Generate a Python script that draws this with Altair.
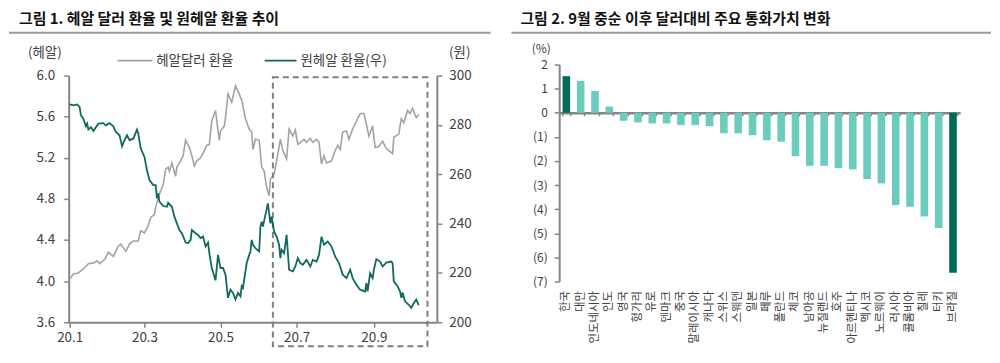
import altair as alt
import pandas as pd

FONT = "Noto Sans CJK KR"
AX = "#858585"
LBL = "#404040"
GRAY_LINE = "#A3A3A3"
TEAL_LINE = "#10695F"
DARK = "#006B5D"
LIGHT = "#6BCBBE"

# ---------------- Figure 1 data (days since 2020-01-01) ----------------
brl_days = [0, 3, 7, 12, 15, 20, 22, 24, 28, 31, 35, 39, 41, 45, 48, 51, 55, 57, 60, 63,
            65, 68, 69, 71, 73, 75, 77, 79, 80, 82, 85, 86, 89, 91, 93, 96, 98, 100, 102, 105,
            108, 110, 112, 114, 117, 120, 121, 124, 125, 127, 130, 133, 135, 138, 141, 144, 146, 147, 149, 152,
            154, 156, 158, 160, 161, 164, 166, 169, 171, 174, 176, 179, 181, 183, 185, 188, 190, 193, 195, 198,
            200, 202, 204, 206, 210, 213, 215, 217, 219, 222, 224, 227, 229, 233, 236, 238, 240, 243, 245, 248,
            251, 254, 256, 259, 260, 264, 266, 268, 271, 273, 275, 278, 280]
brl_vals = [4.02, 4.07, 4.08, 4.13, 4.17, 4.18, 4.20, 4.17, 4.21, 4.28, 4.24, 4.34, 4.36, 4.29, 4.36, 4.39, 4.39, 4.49, 4.47, 4.54,
            4.62, 4.65, 4.72, 4.81, 4.88, 4.94, 5.09, 5.11, 5.07, 5.15, 5.02, 5.11, 5.17, 5.22, 5.37, 5.30, 5.22, 5.12, 5.17, 5.20,
            5.27, 5.32, 5.33, 5.56, 5.66, 5.37, 5.46, 5.51, 5.59, 5.82, 5.74, 5.90, 5.85, 5.76, 5.58, 5.48, 5.45, 5.28, 5.38, 5.37,
            5.11, 5.07, 4.91, 4.83, 4.99, 5.04, 5.17, 5.38, 5.27, 5.19, 5.48, 5.41, 5.47, 5.33, 5.35, 5.38, 5.35, 5.39, 5.35, 5.38,
            5.35, 5.14, 5.22, 5.15, 5.17, 5.27, 5.32, 5.28, 5.45, 5.46, 5.38, 5.48, 5.53, 5.63, 5.63, 5.53, 5.41, 5.51, 5.30, 5.31,
            5.36, 5.29, 5.27, 5.24, 5.40, 5.43, 5.58, 5.54, 5.66, 5.63, 5.68, 5.59, 5.62]

krw_days = [0, 3, 6, 8, 9, 11, 13, 14, 15, 17, 19, 23, 27, 29, 32, 35, 37, 40, 42, 44,
            46, 48, 51, 54, 55, 57, 60, 62, 64, 67, 69, 70, 71, 72, 75, 78, 79, 82, 84, 86,
            88, 90, 93, 95, 97, 98, 101, 103, 105, 107, 109, 111, 112, 114, 117, 119, 121, 123, 125, 127,
            129, 131, 133, 135, 137, 138, 139, 142, 144, 145, 146, 147, 149, 152, 153, 154, 155, 157, 159, 161,
            162, 164, 166, 168, 169, 170, 172, 174, 176, 179, 181, 183, 185, 187, 190, 193, 195, 198, 200, 202,
            204, 207, 210, 213, 216, 219, 222, 225, 227, 230, 233, 237, 238, 239, 241, 243, 244, 246, 249, 251,
            254, 258, 259, 260, 263, 265, 266, 267, 269, 272, 274, 276, 278, 280]
krw_vals = [288.3, 287.9, 288.3, 287.2, 283.9, 282.5, 279.4, 280.5, 278.1, 279.1, 277.5, 280.5, 280.7, 279.8, 280.7, 279.4, 277.1, 275.8, 271.3, 273.8,
            275.8, 273.8, 274.4, 278.1, 276.5, 270.4, 267.0, 261.6, 257.6, 255.6, 255.6, 250.2, 252.2, 248.9, 247.1, 246.8, 248.4, 246.8, 242.8, 240.1,
            237.4, 236.1, 232.3, 232.1, 233.4, 237.4, 236.1, 235.4, 234.1, 234.7, 230.7, 232.3, 228.0, 222.0, 217.0, 227.3, 222.0, 222.0, 219.3, 209.9,
            213.2, 211.9, 209.2, 211.9, 210.5, 214.6, 213.9, 224.0, 227.3, 228.7, 233.4, 231.4, 230.0, 228.7, 238.8, 240.8, 238.8, 243.5, 248.2, 240.1,
            242.8, 236.7, 234.7, 231.4, 226.0, 229.4, 228.0, 235.4, 221.3, 220.6, 222.6, 226.0, 224.0, 223.3, 225.3, 222.6, 225.3, 224.6, 227.3, 234.7,
            231.4, 232.7, 230.7, 226.6, 224.0, 219.3, 217.9, 221.3, 217.9, 215.2, 213.2, 212.5, 215.9, 212.5, 219.9, 217.9, 221.3, 225.6, 224.6, 222.6,
            224.2, 224.6, 224.0, 216.6, 214.6, 212.5, 209.9, 212.1, 208.5, 207.1, 205.8, 207.8, 209.2, 206.9]

box_dates = ["2020-06-12", "2020-10-14"]
box_vals = [5.983, 3.366]

left_ticks = [3.6, 4.0, 4.4, 4.8, 5.2, 5.6, 6.0]
right_ticks = [200, 220, 240, 260, 280, 300]
month_ticks = [1, 3, 5, 7, 9]

# ---------------- Figure 2 data ----------------
countries = ["한국", "대만", "인도네시아", "인도", "영국", "헝가리", "유로", "덴마크", "중국", "말레이시아",
             "캐나다", "스위스", "스웨덴", "일본", "페루", "폴란드", "체코", "남아공", "뉴질랜드", "호주",
             "아르헨티나", "멕시코", "노르웨이", "러시아", "콜롬비아", "칠레", "터키", "브라질"]
changes = [1.52, 1.32, 0.90, 0.26, -0.33, -0.40, -0.44, -0.44, -0.51, -0.51,
           -0.56, -0.85, -0.85, -0.93, -1.14, -1.20, -1.80, -2.20, -2.20, -2.30,
           -2.35, -2.75, -2.93, -3.83, -3.90, -4.30, -4.78, -6.64]
highlight = ["한국", "브라질"]

title1 = "그림 1. 헤알 달러 환율 및 원헤알 환율 추이"
title2 = "그림 2. 9월 중순 이후 달러대비 주요 통화가치 변화"
legend1 = "헤알달러 환율"
legend2 = "원헤알 환율(우)"


def to_dates(days):
    return (pd.Timestamp("2020-01-01") + pd.to_timedelta(days, unit="D")).strftime("%Y-%m-%d").tolist()


brl_df = pd.DataFrame({"date": to_dates(brl_days), "v": brl_vals})
krw_df = pd.DataFrame({"date": to_dates(krw_days), "w": krw_vals})
box_df = pd.DataFrame({"date": [box_dates[0]], "date2": [box_dates[1]],
                       "v": [box_vals[0]], "v2": [box_vals[1]]})
one = pd.DataFrame({"k": [0]})

# ---------------- Left chart ----------------
LW, LH = 370, 259
x_scale = alt.Scale(type="utc",
                    domain=[alt.DateTime(year=2019, month=12, date=31, hours=5, utc=True),
                            alt.DateTime(year=2020, month=10, date=21, hours=12, utc=True)])
x_axis = alt.Axis(values=[alt.DateTime(year=2020, month=m, date=1, utc=True) for m in month_ticks],
                  labelExpr="utcFormat(datum.value, '%y.%-m')", grid=False, title=None,
                  labelFlush=False, labelOverlap=False,
                  domainColor=AX, domainWidth=2, tickColor=AX, tickWidth=1.5, tickSize=5,
                  labelFontSize=13.5, labelColor=LBL, labelPadding=3, labelFont=FONT)
yl_scale = alt.Scale(domain=[3.6, 6.0], range=[LH, 11], nice=False, zero=False)
yl_axis = alt.Axis(values=left_ticks, format=".1f", orient="left", grid=False, title=None,
                   labelFlush=False,
                   domainColor=AX, domainWidth=2, tickColor=AX, tickWidth=1.5, tickSize=5,
                   labelFontSize=13.5, labelColor=LBL, labelPadding=9, labelFont=FONT)
yr_scale = alt.Scale(domain=[200, 300], range=[LH, 11], nice=False, zero=False)
yr_axis = alt.Axis(values=right_ticks, orient="right", grid=False, title=None,
                   labelFlush=False,
                   domainColor=AX, domainWidth=2, tickColor=AX, tickWidth=1.5, tickSize=5,
                   labelFontSize=13.5, labelColor=LBL, labelPadding=7, labelFont=FONT)

gray = alt.Chart(brl_df).mark_line(color=GRAY_LINE, strokeWidth=1.6).encode(
    x=alt.X("date:T", scale=x_scale, axis=x_axis),
    y=alt.Y("v:Q", scale=yl_scale, axis=yl_axis),
)
box = alt.Chart(box_df).mark_rect(filled=False, stroke="#7F7F7F", strokeWidth=2,
                                  strokeDash=[6, 4], clip=False).encode(
    x=alt.X("date:T", scale=x_scale, axis=x_axis), x2="date2:T",
    y=alt.Y("v:Q", scale=yl_scale, axis=yl_axis), y2="v2:Q",
)
teal = alt.Chart(krw_df).mark_line(color=TEAL_LINE, strokeWidth=1.8).encode(
    x=alt.X("date:T", scale=x_scale, axis=x_axis),
    y=alt.Y("w:Q", scale=yr_scale, axis=yr_axis),
)


def txt(s, x, y, size=13.5, weight="normal", align="left", color=LBL):
    return alt.Chart(one).mark_text(align=align, baseline="middle", fontSize=size, fontWeight=weight,
                                    color=color, font=FONT).encode(
        x=alt.value(x), y=alt.value(y), text=alt.value(s))


def hrule(x1, x2, y, color, width):
    return alt.Chart(one).mark_rule(color=color, strokeWidth=width).encode(
        x=alt.value(x1), x2=alt.value(x2), y=alt.value(y))


left_deco = [
    txt(title1, -50, -46, size=15, weight="bold", color="#111111"),
    hrule(-60, 424, -32, "#9A9A9A", 2),
    txt("(헤알)", -24, -12, align="center"),
    txt("(원)", 393, -12, align="center"),
    hrule(49, 84, -4, GRAY_LINE, 1.8),
    txt(legend1, 88, -4),
    hrule(197, 229, -4, TEAL_LINE, 1.8),
    txt(legend2, 233, -4),
]

left = alt.layer(alt.layer(gray, box), teal, *left_deco).resolve_scale(y="independent").properties(
    width=LW, height=LH)

# ---------------- Right chart ----------------
RW, RH = 403, 218
bar_df = pd.DataFrame({"country": countries, "change": changes})
bar_df["hl"] = bar_df["country"].isin(highlight)

xb_scale = alt.Scale(paddingInner=0.47, paddingOuter=0.235)
yb_scale = alt.Scale(domain=[-7, 2], nice=False)
yb_axis = alt.Axis(values=list(range(-7, 3)), grid=False, title=None, labelFlush=False,
                   labelExpr="datum.value < 0 ? '(' + abs(datum.value) + ')' : datum.value + '\u00a0'",
                   domainColor=AX, domainWidth=2, tickColor=AX, tickWidth=1.5, tickSize=5,
                   labelFontSize=12, labelColor=LBL, labelPadding=7, labelFont=FONT)

bars = alt.Chart(bar_df).mark_bar().encode(
    x=alt.X("country:N", sort=countries, scale=xb_scale,
            axis=alt.Axis(title=None, labelAngle=270, domain=False, ticks=False,
                          labelFontSize=11.5, labelColor=LBL, labelPadding=9, labelFont=FONT)),
    y=alt.Y("change:Q", scale=yb_scale, axis=yb_axis),
    color=alt.condition("datum.hl", alt.value(DARK), alt.value(LIGHT)),
)
zero_axis = alt.Chart(bar_df).mark_bar(opacity=0).encode(
    x=alt.X("country:N", sort=countries, scale=xb_scale,
            axis=alt.Axis(title=None, labels=False, domain=True, ticks=True, tickBand="extent",
                          orient="bottom", offset=-RH * 7 / 9, domainColor=AX, domainWidth=2.5,
                          tickColor=AX, tickWidth=1.5, tickSize=3)),
    y=alt.Y("change:Q", scale=yb_scale, axis=yb_axis),
)
right_deco = [
    txt(title2, -39, -46, size=15, weight="bold", color="#111111"),
    hrule(-48, 434, -32, "#9A9A9A", 2),
    txt("(%)", -18, -16, size=12, align="center"),
]
right = alt.layer(bars, zero_axis, *right_deco).resolve_axis(x="independent").properties(
    width=RW, height=RH)

chart = alt.hconcat(left, right, spacing=123, bounds="flush").properties(
    padding={"left": 0, "top": 3, "right": 0, "bottom": 0}
).configure_view(stroke=None).configure_text(font=FONT)

chart.save("out.html", embed_options={"renderer": "svg", "actions": False})
